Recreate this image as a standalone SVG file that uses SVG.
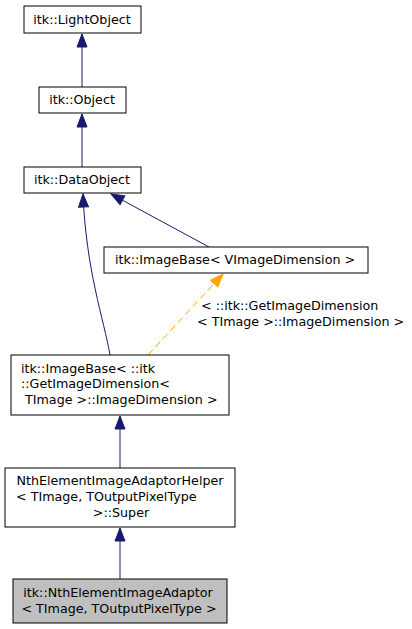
<svg xmlns="http://www.w3.org/2000/svg" width="412" height="629" viewBox="0 0 412 629">
<style>
.box{fill:#fff;stroke:#000;stroke-width:1}
.cur{fill:#bfbfbf;stroke:#000;stroke-width:1}
text{font-family:"DejaVu Sans",sans-serif;font-size:12.7px;fill:#000}
.m{text-anchor:middle}
.e{fill:none;stroke:#191970;stroke-width:1}
.d{fill:none;stroke:#ffa500;stroke-width:1;stroke-dasharray:7,4}
</style>
<defs>
<marker id="a" markerUnits="userSpaceOnUse" markerWidth="14" markerHeight="12" refX="13" refY="5" orient="auto" overflow="visible">
<path d="M0,0 L13,5 L0,10 z" fill="#191970" stroke="#191970"/>
</marker>
<marker id="o" markerUnits="userSpaceOnUse" markerWidth="14" markerHeight="12" refX="13" refY="5" orient="auto" overflow="visible">
<path d="M0,0 L13,5 L0,10 z" fill="#ffa500" stroke="#ffa500"/>
</marker>
</defs>
<g id="edges">
<path class="e" d="M82,87 L82,34" marker-end="url(#a)"/>
<path class="e" d="M82,167 L82,114" marker-end="url(#a)"/>
<path class="e" d="M209,247 L111,194" marker-end="url(#a)"/>
<path class="e" d="M110,355 C104,320 86,270 83,194" marker-end="url(#a)"/>
<path class="d" d="M148,355 L223,274" marker-end="url(#o)"/>
<text x="201" y="310">&lt; ::itk::GetImageDimension</text>
<text x="197" y="326">&lt; TImage &gt;::ImageDimension &gt;</text>
<path class="e" d="M120,468 L120,416" marker-end="url(#a)"/>
<path class="e" d="M120,579 L120,528" marker-end="url(#a)"/>
</g>
<g id="n1"><rect class="box" x="24" y="6" width="117" height="27"/><text class="m" x="82" y="24">itk::LightObject</text></g>
<g id="n2"><rect class="box" x="39" y="87" width="87" height="26"/><text class="m" x="82" y="104">itk::Object</text></g>
<g id="n3"><rect class="box" x="24" y="167" width="117" height="26"/><text class="m" x="82" y="184">itk::DataObject</text></g>
<g id="n4"><rect class="box" x="104" y="247" width="264" height="26"/><text class="m" x="235" y="264">itk::ImageBase&lt; VImageDimension &gt;</text></g>
<g id="n5"><rect class="box" x="11" y="355" width="218" height="60"/>
<text x="21" y="373">itk::ImageBase&lt; ::itk</text>
<text x="21" y="388">::GetImageDimension&lt;</text>
<text x="25" y="404">TImage &gt;::ImageDimension &gt;</text></g>
<g id="n6"><rect class="box" x="5" y="468" width="230" height="59"/>
<text class="m" x="120" y="485">NthElementImageAdaptorHelper</text>
<text x="16" y="501">&lt; TImage, TOutputPixelType</text>
<text class="m" x="121" y="517">&gt;::Super</text></g>
<g id="n7"><rect class="cur" x="13" y="579" width="214" height="44"/>
<text class="m" x="118" y="597">itk::NthElementImageAdaptor</text>
<text class="m" x="119" y="613">&lt; TImage, TOutputPixelType &gt;</text></g>
</svg>
